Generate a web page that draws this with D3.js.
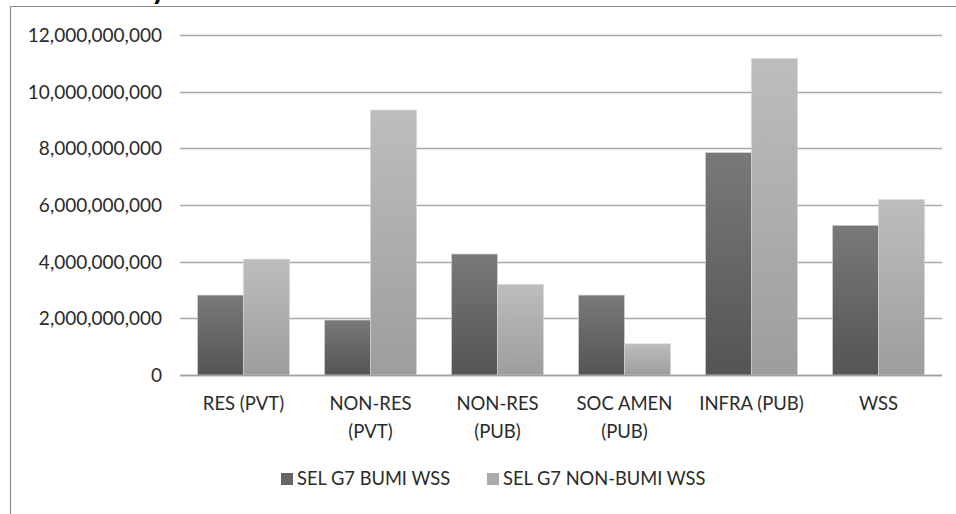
<!DOCTYPE html>
<html><head><meta charset="utf-8">
<script src="https://cdn.jsdelivr.net/npm/d3@7"></script>
<style>
html,body{margin:0;padding:0;background:#fff;}
svg{display:block;}
text{font-family:Lato,"Open Sans",sans-serif;fill:#2a2a2a;}
</style></head><body>
<svg id="c" width="956" height="514"></svg>
<script>
const categories = ["RES (PVT)", "NON-RES (PVT)", "NON-RES (PUB)", "SOC AMEN (PUB)", "INFRA (PUB)", "WSS"];
const seriesNames = ["SEL G7 BUMI WSS", "SEL G7 NON-BUMI WSS"];
const bumi = [2820000000, 1940000000, 4270000000, 2820000000, 7850000000, 5280000000];
const nonBumi = [4090000000, 9350000000, 3200000000, 1100000000, 11170000000, 6190000000];
const yTicks = [0, 2000000000, 4000000000, 6000000000, 8000000000, 10000000000, 12000000000];

(function() {
const svg = d3.select("#c");
const W = 956, H = 514;
const mLeft = 180, mRight = 942, mTop = 35, mBottom = 375;

const defs = svg.append("defs");
const grads = [["gDark", "#797979", "#545454"], ["gLight", "#bdbdbd", "#9d9d9d"]];
grads.forEach(([id, c1, c2]) => {
  const g = defs.append("linearGradient").attr("id", id).attr("x1", 0).attr("y1", 0).attr("x2", 0).attr("y2", 1);
  g.append("stop").attr("offset", "0%").attr("stop-color", c1);
  g.append("stop").attr("offset", "100%").attr("stop-color", c2);
});
const fills = ["url(#gDark)", "url(#gLight)"];
const legendFills = ["#666666", "#ababab"];

svg.append("path").attr("d", `M10.5,${H + 5} L10.5,6.5 L${W + 5},6.5`)
  .attr("fill", "none").attr("stroke", "#8a8a8a").attr("stroke-width", 1.2);

// title clipped by the top edge of the picture, only the descender shows (as in the reference)
svg.append("text").attr("x", 151).attr("y", -1).attr("font-size", 30).attr("font-weight", "bold")
  .style("fill", "#000").text("y");

const y = d3.scaleLinear().domain([0, 12000000000]).range([mBottom, mTop]);
const x0 = d3.scaleBand().domain(categories).range([mLeft, mRight]).paddingInner(0.2756).paddingOuter(0.1378);
const x1 = d3.scaleBand().domain(seriesNames).range([0, x0.bandwidth()]);

svg.append("g").selectAll("line").data(yTicks).join("line")
  .attr("x1", mLeft).attr("x2", mRight)
  .attr("y1", d => Math.round(y(d)) + 0.5).attr("y2", d => Math.round(y(d)) + 0.5)
  .attr("stroke", "#a9a9a9").attr("stroke-width", 1.3);

const yAxis = d3.axisLeft(y).tickValues(yTicks).tickFormat(d3.format(",")).tickSize(0).tickPadding(0);
const ya = svg.append("g").attr("transform", `translate(162,0)`).call(yAxis);
ya.select(".domain").remove();
ya.selectAll("text").attr("font-size", 19).attr("font-family", "Lato, 'Open Sans', sans-serif").style("fill", "#2a2a2a").attr("dy", "0.35em");

const series = [bumi, nonBumi];
const groups = svg.append("g").selectAll("g").data(categories).join("g")
  .attr("transform", d => `translate(${x0(d)},0)`);
groups.selectAll("rect").data((c, i) => series.map((s, k) => ({k, v: s[i]}))).join("rect")
  .attr("x", d => x1(seriesNames[d.k]))
  .attr("width", x1.bandwidth())
  .attr("y", d => y(d.v))
  .attr("height", d => y(0) - y(d.v))
  .attr("fill", d => fills[d.k])
  .attr("stroke", "#d6d6d6").attr("stroke-width", 0.6);

svg.append("line").attr("x1", mLeft).attr("x2", mRight).attr("y1", Math.round(y(0)) + 0.5).attr("y2", Math.round(y(0)) + 0.5)
  .attr("stroke", "#a0a0a0").attr("stroke-width", 1.3);

const xa = svg.append("g").attr("transform", `translate(0,${mBottom})`)
  .call(d3.axisBottom(x0).tickSize(0).tickPadding(0));
xa.select(".domain").remove();
xa.selectAll("text").attr("font-size", 18.5).attr("font-family", "Lato, 'Open Sans', sans-serif").style("fill", "#2a2a2a")
  .each(function(d) {
    const t = d3.select(this);
    t.text(null).attr("y", 0).attr("dy", null);
    const words = d.split(" ");
    let lines = [], line = [];
    const tmp = t.append("tspan");
    words.forEach(w => {
      line.push(w);
      tmp.text(line.join(" "));
      if (tmp.node().getComputedTextLength() > 118 && line.length > 1) {
        line.pop(); lines.push(line.join(" ")); line = [w];
      }
    });
    lines.push(line.join(" "));
    tmp.remove();
    if (lines.length > 2) { lines = [lines.slice(0, lines.length - 1).join(" "), lines[lines.length - 1]]; }
    lines.forEach((l, i) => t.append("tspan").attr("x", 0).attr("y", 35 + i * 28).text(l));
  });

const legendX = [281, 487];
const lg = svg.append("g");
seriesNames.forEach((n, i) => {
  lg.append("rect").attr("x", legendX[i]).attr("y", 473).attr("width", 12).attr("height", 12).attr("fill", legendFills[i]);
  lg.append("text").attr("x", legendX[i] + 16).attr("y", 485).attr("font-size", 18.3).text(n);
});
})();
</script>
</body></html>
